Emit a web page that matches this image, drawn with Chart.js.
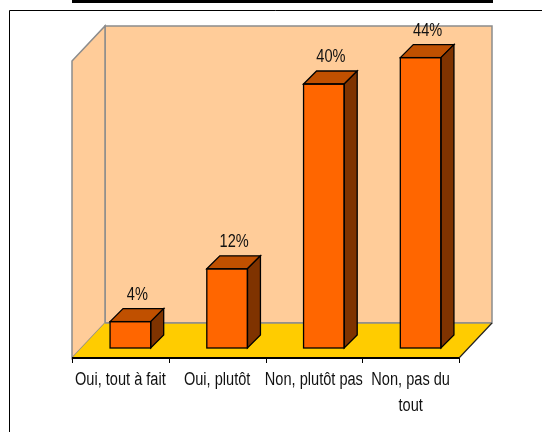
<!DOCTYPE html>
<html>
<head>
<meta charset="utf-8">
<script src="https://cdn.jsdelivr.net/npm/chart.js@4"></script>
<style>
  html, body { margin: 0; padding: 0; background: #fff; }
  canvas { display: block; }
</style>
</head>
<body>
<canvas id="chart" width="542" height="432"></canvas>
<script>
var categories = ['Oui, tout à fait', 'Oui, plutôt', 'Non, plutôt pas', ['Non, pas du', 'tout']];
var shares = [4, 12, 40, 44];
var yMax = 45;

// depth offsets of the 3d box, relative to the plane the bars stand in
var front = { dx: -10, dy: 10 };
var back = { dx: 23, dy: -25 };
var barDepth = 13;
var textFont = '18px "Liberation Sans", Arial, sans-serif';
var squeeze = 0.81;

function poly(ctx, pts, fill, stroke, lw) {
  ctx.beginPath();
  ctx.moveTo(pts[0][0], pts[0][1]);
  for (var i = 1; i < pts.length; i++) ctx.lineTo(pts[i][0], pts[i][1]);
  ctx.closePath();
  if (fill) { ctx.fillStyle = fill; ctx.fill(); }
  if (stroke) { ctx.strokeStyle = stroke; ctx.lineWidth = lw || 1; ctx.stroke(); }
}

function narrowText(ctx, txt, x, y) {
  ctx.save();
  ctx.translate(x, y);
  ctx.scale(squeeze, 1);
  ctx.fillText(txt, 0, 0);
  ctx.restore();
}

var box3d = {
  id: 'box3d',
  beforeDraw: function(chart) {
    var ctx = chart.ctx;
    ctx.save();
    // frame and header strip
    ctx.fillStyle = '#000';
    ctx.fillRect(72, 0, 421, 3);
    ctx.strokeStyle = '#000';
    ctx.lineWidth = 1;
    ctx.beginPath();
    ctx.moveTo(9.5, 432);
    ctx.lineTo(9.5, 10.5);
    ctx.lineTo(542, 10.5);
    ctx.stroke();
    ctx.restore();
  },
  beforeDatasetsDraw: function(chart) {
    var ctx = chart.ctx, a = chart.chartArea, xs = chart.scales.x;
    var L = a.left, R = a.right, T = a.top, B = a.bottom;
    var fL = L + front.dx, fR = R + front.dx, fT = T + front.dy, fB = B + front.dy;
    var bL = L + back.dx, bR = R + back.dx, bT = T + back.dy, bB = B + back.dy;
    ctx.save();
    ctx.lineJoin = 'miter';
    // back wall
    poly(ctx, [[bL, bT], [bR, bT], [bR, bB], [bL, bB]], '#FFCC99', '#8c8c8c', 1.5);
    // side wall
    poly(ctx, [[fL, fT], [bL, bT], [bL, bB], [fL, fB]], '#FFCC99', '#8c8c8c', 1.5);
    // floor
    poly(ctx, [[fL, fB], [bL, bB], [bR, bB], [fR, fB]], '#FFCC00', null);
    ctx.strokeStyle = '#8c8c8c';
    ctx.lineWidth = 1.5;
    ctx.beginPath();
    ctx.moveTo(bL, bB); ctx.lineTo(bR, bB);
    ctx.stroke();
    ctx.strokeStyle = '#222';
    ctx.lineWidth = 1.2;
    ctx.beginPath();
    ctx.moveTo(fR, fB); ctx.lineTo(bR, bB);
    ctx.stroke();
    // category axis with ticks
    ctx.strokeStyle = '#000';
    ctx.lineWidth = 2;
    ctx.beginPath();
    ctx.moveTo(fL, fB); ctx.lineTo(fR, fB);
    ctx.stroke();
    var step = xs.getPixelForValue(1) - xs.getPixelForValue(0);
    ctx.lineWidth = 1;
    ctx.beginPath();
    for (var i = 0; i <= categories.length; i++) {
      var tx = Math.round(xs.getPixelForValue(0) - step / 2 + i * step + front.dx) + 0.5;
      ctx.moveTo(tx, fB);
      ctx.lineTo(tx, fB + 5);
    }
    ctx.stroke();
    // category labels
    ctx.fillStyle = '#111';
    ctx.font = textFont;
    ctx.textAlign = 'center';
    ctx.textBaseline = 'alphabetic';
    categories.forEach(function(lab, i) {
      var cx = xs.getPixelForValue(i) + front.dx;
      var lines = Array.isArray(lab) ? lab : [lab];
      lines.forEach(function(s, j) {
        narrowText(ctx, s, cx, fB + 27 + j * 26);
      });
    });
    ctx.restore();
  },
  afterDatasetsDraw: function(chart) {
    var ctx = chart.ctx, d = barDepth;
    var meta = chart.getDatasetMeta(0);
    ctx.save();
    ctx.lineJoin = 'miter';
    meta.data.forEach(function(bar, i) {
      var l = bar.x - bar.width / 2, r = bar.x + bar.width / 2;
      var top = bar.y, base = bar.base;
      poly(ctx, [[l, top], [l + d, top - d], [r + d, top - d], [r, top]], '#C05000', '#000', 1.3);
      poly(ctx, [[r, top], [r + d, top - d], [r + d, base - d], [r, base]], '#7F3300', '#000', 1.3);
      ctx.strokeStyle = '#000';
      ctx.lineWidth = 1.3;
      ctx.strokeRect(l, top, r - l, base - top);
      // value label
      ctx.fillStyle = '#111';
      ctx.font = textFont;
      ctx.textAlign = 'center';
      ctx.textBaseline = 'alphabetic';
      narrowText(ctx, shares[i] + '%', bar.x + 7, top - 22);
    });
    ctx.restore();
  }
};

var ctx = document.getElementById('chart').getContext('2d');
var chart = new Chart(ctx, {
  type: 'bar',
  data: {
    labels: categories,
    datasets: [{
      data: shares,
      backgroundColor: '#FF6600',
      borderWidth: 0,
      barPercentage: 0.42,
      categoryPercentage: 1
    }]
  },
  options: {
    responsive: false,
    animation: false,
    layout: { padding: { left: 82, right: 73, top: 51, bottom: 84 } },
    scales: {
      x: { display: false },
      y: { display: false, min: 0, max: yMax }
    },
    plugins: {
      legend: { display: false },
      tooltip: { enabled: false }
    }
  },
  plugins: [box3d]
});
</script>
</body>
</html>
